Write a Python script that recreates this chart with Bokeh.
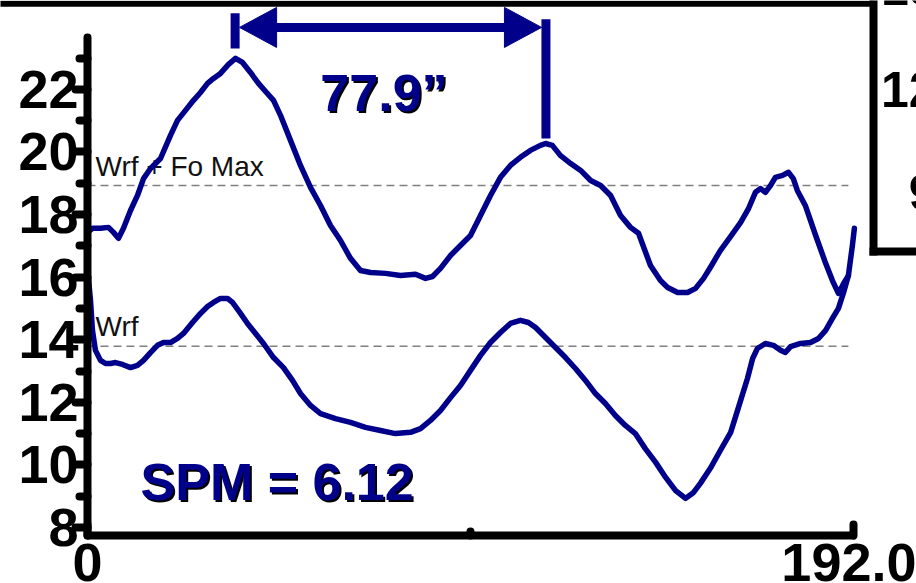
from bokeh.plotting import figure
from bokeh.models import Range1d, FixedTicker
from bokeh.core.properties import value
from bokeh.embed import file_html
from bokeh.resources import INLINE

# ---- data ----
upper_t = [0, 1.25, 3.26, 5.26, 6.52, 7.77, 9.02, 10.78, 12.53, 14.04, 15.79, 18.30, 20.80, 22.56,
           24.56, 26.57, 28.32, 30.08, 31.58, 33.33, 35.34, 37.09, 38.85, 40.85, 42.86, 44.86,
           46.62, 48.37, 50.88, 53.38, 55.89, 58.40, 60.90, 63.41, 65.91, 68.42, 70.93, 74.69,
           78.45, 82.21, 84.71, 86.47, 88.47, 90.98, 93.48, 95.99, 98.50, 101.0, 103.5, 106.0,
           108.5, 111.0, 113.5, 114.8, 116.5, 118.5, 121.1, 123.6, 126.1, 128.6, 131.1, 133.6,
           136.1, 138.1, 141.1, 143.6, 145.4, 147.9, 150.4, 152.4, 154.4, 156.1, 158.6, 161.2,
           163.7, 165.7, 167.4, 168.7, 169.9, 171.2, 172.4, 174.2, 175.7, 176.9, 177.9, 179.9,
           182.5, 185.0, 186.7, 188.2, 189.5, 190.7, 191.7, 192.2]
upper_v = [17.43, 17.56, 17.56, 17.59, 17.43, 17.24, 17.56, 18.13, 18.61, 19.15, 19.47, 19.79, 20.53, 21.01,
           21.33, 21.65, 21.90, 22.19, 22.35, 22.51, 22.80, 22.99, 22.86, 22.54, 22.19, 21.90,
           21.65, 21.17, 20.37, 19.57, 18.87, 18.29, 17.65, 17.17, 16.60, 16.21, 16.15, 16.12,
           16.05, 16.09, 15.96, 16.02, 16.28, 16.69, 17.01, 17.33, 17.97, 18.61, 19.19, 19.57,
           19.83, 20.05, 20.21, 20.27, 20.21, 19.89, 19.63, 19.41, 19.09, 18.93, 18.61, 17.97,
           17.59, 17.40, 16.37, 15.89, 15.67, 15.51, 15.51, 15.64, 15.96, 16.31, 16.85, 17.30,
           17.75, 18.20, 18.71, 18.83, 18.71, 18.93, 19.19, 19.25, 19.35, 19.15, 18.77, 18.29,
           17.33, 16.44, 15.89, 15.48, 15.80, 16.05, 17.01, 17.56]

lower_t = [0, 0.75, 1.25, 2.0, 3.26, 4.51, 5.76, 7.02, 8.77, 10.78, 12.53, 14.04, 15.79, 17.54, 19.05,
           20.80, 22.56, 24.06, 26.32, 28.32, 30.08, 31.58, 33.33, 35.09, 36.34, 38.35, 40.10,
           42.11, 44.11, 46.62, 49.12, 51.38, 53.38, 55.89, 58.40, 62.16, 65.91, 69.67, 73.43,
           77.19, 80.95, 83.46, 85.96, 88.47, 90.98, 93.48, 95.99, 98.50, 101.0, 103.5, 106.0,
           108.5, 110.5, 112.3, 114.8, 117.3, 119.8, 122.3, 124.8, 127.3, 129.8, 132.3, 134.8,
           137.3, 139.8, 142.4, 144.9, 147.4, 149.9, 151.9, 153.6, 156.1, 158.6, 161.2, 163.7,
           165.4, 166.7, 167.9, 169.9, 171.9, 173.7, 174.9, 176.2, 178.7, 181.2, 183.2, 185.0,
           186.7, 188.2, 189.5, 190.7]
lower_v = [16.28, 15.26, 14.30, 13.66, 13.34, 13.24, 13.24, 13.27, 13.21, 13.11, 13.18, 13.34, 13.59, 13.82, 13.91,
           13.91, 14.04, 14.20, 14.55, 14.84, 15.06, 15.19, 15.32, 15.32, 15.19, 14.84, 14.52,
           14.20, 13.88, 13.43, 13.11, 12.70, 12.28, 11.90, 11.64, 11.48, 11.36, 11.20, 11.10,
           11.00, 11.04, 11.16, 11.42, 11.74, 12.15, 12.54, 13.02, 13.50, 13.91, 14.23, 14.52,
           14.62, 14.55, 14.39, 14.07, 13.75, 13.43, 13.08, 12.70, 12.28, 11.96, 11.58, 11.26,
           11.00, 10.52, 10.08, 9.60, 9.18, 8.93, 9.12, 9.41, 9.89, 10.46, 11.04, 12.06,
           12.76, 13.40, 13.72, 13.88, 13.82, 13.66, 13.59, 13.78, 13.88, 13.91, 14.04, 14.30,
           14.68, 15.00, 15.51, 16.05]

level_values = [13.79, 18.93]          # Wrf, Wrf + Fo Max
level_names = ["Wrf", "Wrf + Fo Max"]
level_extent = [0, 190.7]
y_major_ticks = [8, 10, 12, 14, 16, 18, 20, 22]
y_minor_ticks = [9, 11, 13, 15, 17, 19, 21, 23]
x_major_ticks = [0, 192]
x_minor_ticks = [96]
x_tick_labels = {192: "192.0"}
peak_times = [37.0, 114.9]
period_text = "77.9\u201d"
spm_text = "SPM = 6.12"
side_labels = ["15", "12", "9"]

NAVY = "#00008B"
FONT = "Liberation Sans"

# frame covers the whole canvas; axes are pinned at x=0 and y=y_lo
Y_LO, Y_HI = 7.74, 23.66
p = figure(width=916, height=583, output_backend="svg", toolbar_location=None,
           x_range=Range1d(-21.80, 207.77), y_range=Range1d(6.21, 24.84),
           min_border=0, min_border_left=0, min_border_right=0, min_border_top=0,
           min_border_bottom=0, title=None,
           background_fill_color="white", border_fill_color="white")
p.outline_line_color = None
p.xgrid.visible = False
p.ygrid.visible = False

ya = p.yaxis[0]
ya.fixed_location = 0
ya.bounds = (Y_LO, Y_HI)
ya.ticker = FixedTicker(ticks=y_major_ticks, minor_ticks=y_minor_ticks)
ya.axis_line_width = 8
ya.axis_line_cap = "round"
ya.major_tick_line_width = 8
ya.major_tick_line_cap = "round"
ya.major_tick_out = 12
ya.major_tick_in = 0
ya.minor_tick_line_width = 8
ya.minor_tick_line_cap = "round"
ya.minor_tick_out = 8
ya.minor_tick_in = 0
ya.major_label_standoff = -3
ya.major_label_text_font = FONT
ya.major_label_text_font_style = "bold"
ya.major_label_text_font_size = "54px"
ya.major_label_text_color = "black"

xa = p.xaxis[0]
xa.fixed_location = Y_LO
xa.bounds = (0, 192.5)
xa.ticker = FixedTicker(ticks=x_major_ticks, minor_ticks=x_minor_ticks)
xa.axis_line_width = 8
xa.major_tick_line_width = 8
xa.major_tick_line_cap = "round"
xa.major_tick_out = 0
xa.major_tick_in = 11
xa.minor_tick_line_width = 8
xa.minor_tick_line_cap = "round"
xa.minor_tick_out = 0
xa.minor_tick_in = 4
xa.major_label_standoff = 8
xa.major_label_overrides = x_tick_labels
xa.major_label_text_font = FONT
xa.major_label_text_font_style = "bold"
xa.major_label_text_font_size = "54px"
xa.major_label_text_color = "black"

# reference levels
p.segment(x0=[level_extent[0]] * 2, x1=[level_extent[1]] * 2, y0=level_values, y1=level_values,
          line_color="#808080", line_width=1.5, line_dash="8 5")
p.text(x=[2.0, 2.0], y=[14.42, 19.54], text=level_names, text_font=value(FONT),
       text_font_size="28px", text_color="#111111", text_baseline="alphabetic")

# curves
p.line(upper_t, upper_v, line_color=NAVY, line_width=5.5, line_join="round", line_cap="round")
p.line(lower_t, lower_v, line_color=NAVY, line_width=5.5, line_join="round", line_cap="round")

# period marker: two bars, a shaft and two heads
p0, p1 = peak_times
p.segment(x0=[p0, p1], x1=[p0, p1], y0=[24.43, 24.24], y1=[23.31, 20.43],
          line_color=NAVY, line_width=9)
p.segment(x0=[p0 + 5], x1=[p1 - 5], y0=[23.98], y1=[23.98], line_color=NAVY, line_width=9)
p.patches(xs=[[p0 + 1.1, p0 + 10.4, p0 + 10.4], [p1 - 1.1, p1 - 10.4, p1 - 10.4]],
          ys=[[23.98, 24.62, 23.34], [23.98, 24.62, 23.34]],
          fill_color=NAVY, line_color=NAVY, line_width=1)

for txt, xx, yy, align in [(period_text, 74.3, 21.88, "center"), (spm_text, 13.3, 9.45, "left")]:
    p.text(x=[xx], y=[yy], text=[txt], text_align=align, text_baseline="alphabetic",
           x_offset=2, y_offset=2, text_font=value(FONT), text_font_style="bold",
           text_font_size="52px", text_color="black")
    p.text(x=[xx], y=[yy], text=[txt], text_align=align, text_baseline="alphabetic",
           text_font=value(FONT), text_font_style="bold",
           text_font_size="52px", text_color=NAVY)

# slide decorations: top rule and partially visible side panel
p.segment(x0=[-25], x1=[197.0], y0=[24.74], y1=[24.74], line_color="black", line_width=6)
p.segment(x0=[197.0, 197.0], x1=[197.0, 212.0], y0=[25.5, 16.82], y1=[16.82, 16.82],
          line_color="black", line_width=8, line_cap="square")
p.text(x=[212.8] * 3, y=[25.27, 21.98, 18.69], text=side_labels, text_align="right",
       text_baseline="alphabetic", text_font=value(FONT), text_font_style="bold",
       text_font_size="50px", text_color="black")

open("out.html", "w").write(file_html(p, INLINE))
